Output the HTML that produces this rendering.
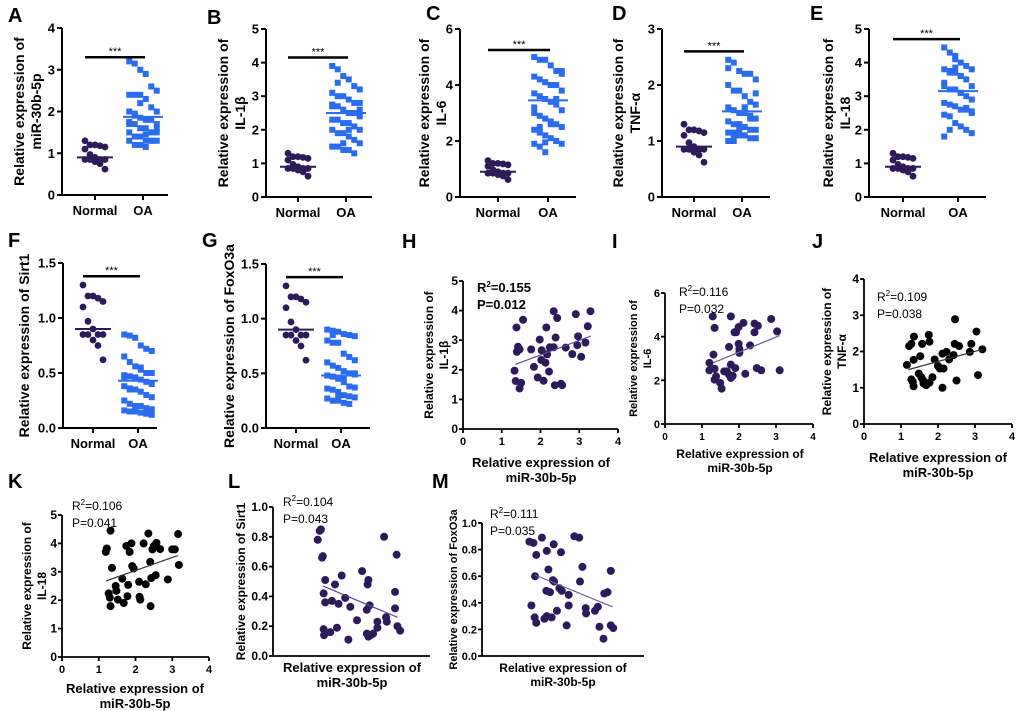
<!DOCTYPE html>
<html><head><meta charset="utf-8"><style>
html,body{margin:0;padding:0;background:#fff;}
svg{display:block;font-family:"Liberation Sans",Arial,sans-serif;}
</style></head><body>
<svg id="fig" width="1020" height="711" viewBox="0 0 1020 711" xmlns="http://www.w3.org/2000/svg"></svg>
<script>
// ---------- data ----------
const groupLabels = ["Normal","OA"];
const normalA = [1.3,1.2,1.2,1.18,1.15,1.1,0.97,0.9,0.85,0.85,0.85,0.85,0.8,0.75,0.62];
const oaA = [3.2,3.15,3.0,2.9,2.6,2.5,2.4,2.4,2.4,2.3,2.1,2.0,2.0,1.9,1.85,1.8,1.8,1.7,1.7,1.7,1.6,1.6,1.5,1.5,1.5,1.4,1.4,1.3,1.3,1.3,1.3,1.2,1.2,1.15,1.3,1.6,1.75,1.95,2.2,1.45];
const oaB = [3.9,3.8,3.6,3.5,3.3,3.2,3.1,3.0,3.0,2.9,2.8,2.8,2.7,2.7,2.6,2.5,2.5,2.4,2.3,2.3,2.2,2.2,2.1,2.0,2.0,1.9,1.9,1.8,1.7,1.6,1.5,1.5,1.4,1.4,1.3,2.6,2.75,3.4,1.6,2.0];
const oaC = [5.0,4.9,4.9,4.7,4.5,4.4,4.3,4.2,4.1,4.0,4.0,3.8,3.7,3.6,3.5,3.4,3.3,3.1,3.0,2.9,2.8,2.7,2.6,2.5,2.4,2.3,2.2,2.1,2.0,1.9,1.9,1.8,1.6,2.6,3.5,4.5,3.2,2.5,1.95,4.0];
const oaD = [2.45,2.4,2.25,2.2,2.2,2.1,2.0,1.9,1.9,1.8,1.7,1.65,1.6,1.55,1.5,1.5,1.45,1.4,1.35,1.3,1.3,1.25,1.2,1.2,1.15,1.15,1.1,1.1,1.05,1.05,1.0,1.0,1.3,1.6,1.4,1.85,2.3,1.1,1.2,1.6];
const oaE = [4.45,4.3,4.2,4.0,3.9,3.8,3.8,3.7,3.7,3.6,3.5,3.3,3.3,3.2,3.2,3.1,3.0,2.9,2.8,2.75,2.7,2.6,2.6,2.5,2.45,2.4,2.2,2.1,2.0,1.9,1.8,3.75,3.85,3.1,2.65,2.55,3.4,2.0,4.1,3.6];
const oaF = [0.85,0.84,0.82,0.75,0.72,0.7,0.65,0.6,0.56,0.53,0.5,0.5,0.48,0.47,0.46,0.44,0.42,0.4,0.38,0.36,0.35,0.33,0.3,0.28,0.25,0.22,0.2,0.2,0.18,0.17,0.16,0.15,0.15,0.14,0.13,0.12,0.45,0.35,0.19,0.55];
const oaG = [0.9,0.89,0.88,0.86,0.85,0.84,0.8,0.78,0.78,0.68,0.65,0.62,0.6,0.57,0.55,0.52,0.5,0.49,0.48,0.47,0.45,0.42,0.38,0.37,0.36,0.35,0.33,0.3,0.29,0.28,0.27,0.25,0.25,0.23,0.22,0.5,0.48,0.85,0.3,0.45];
const meansNormal = [0.9,0.9,0.9,0.9,0.9,0.9,0.9];
const meansOA = [1.87,2.5,3.45,1.53,3.15,0.43,0.48];

const hX=[1.38,1.55,1.33,1.36,1.5,1.46,1.42,1.39,1.46,1.76,1.83,1.98,1.93,2.02,2.08,2.13,2.15,2.22,2.17,2.24,2.34,2.43,2.39,2.34,2.37,2.56,2.65,2.82,2.91,2.97,2.95,3.05,3.16,3.22,3.29,2.03,2.53];
const hY=[3.43,3.69,1.97,1.62,1.56,1.37,2.78,2.61,2.69,2.69,2.1,3.02,1.74,2.33,1.63,2.24,3.43,1.94,2.52,2.76,3.98,3.75,3.09,2.76,1.48,1.48,2.75,2.53,3.88,3.13,2.83,2.44,2.92,3.47,3.98,2.66,1.53];
const iX=[1.29,1.34,1.31,1.2,1.2,1.34,1.34,1.38,1.49,1.53,1.6,1.67,1.73,1.78,1.83,1.78,1.73,1.78,1.88,1.92,1.9,1.99,2.01,2.01,1.99,2.12,2.17,2.3,2.42,2.51,2.42,2.48,2.6,2.87,3.03,3.1];
const iY=[4.93,4.4,3.18,2.8,2.46,2.53,2.03,2.18,1.88,1.62,2.41,2.41,2.26,2.11,2.21,2.72,3.53,4.93,4.2,4.2,2.56,3.67,3.44,3.26,4.44,4.63,2.3,3.6,4.6,4.5,4.2,2.56,2.46,4.81,4.24,2.46];
const jX=[1.16,1.22,1.28,1.35,1.34,1.28,1.32,1.34,1.48,1.52,1.57,1.55,1.6,1.61,1.68,1.75,1.77,1.77,1.85,1.91,2.0,2.05,2.12,2.15,2.12,2.23,2.3,2.42,2.45,2.46,2.5,2.57,2.86,2.9,3.04,3.08,3.2];
const jY=[1.63,2.15,2.21,2.41,1.77,1.23,1.16,1.04,1.39,1.87,2.21,1.29,1.2,1.12,1.07,2.46,2.27,1.14,1.29,1.78,1.6,1.53,1.94,1.53,1.0,1.99,1.78,1.9,2.21,2.89,1.2,2.15,1.99,2.21,2.55,1.35,2.06];
const kX=[1.19,1.22,1.32,1.36,1.27,1.3,1.32,1.46,1.48,1.52,1.64,1.68,1.75,1.8,1.78,1.84,1.89,1.91,1.95,2.1,2.11,2.13,2.22,2.28,2.35,2.4,2.41,2.43,2.46,2.5,2.55,2.57,2.67,2.88,3.0,3.07,3.16,3.18];
const kY=[3.7,3.82,4.45,3.14,2.24,2.09,1.79,2.5,2.33,2.02,2.76,1.9,3.91,2.54,2.14,3.7,4.0,3.2,3.12,2.65,2.12,2.02,4.0,2.56,4.35,3.35,1.79,2.78,3.79,3.91,2.88,4.02,3.8,2.73,3.79,3.79,4.33,3.24];
const lX=[1.14,1.19,1.22,1.25,1.27,1.33,1.29,1.33,1.29,1.3,1.46,1.5,1.58,1.63,1.67,1.75,1.84,1.92,1.97,2.14,2.27,2.39,2.41,2.43,2.46,2.39,2.43,2.49,2.55,2.66,2.66,2.83,2.88,2.9,3.11,3.11,3.15,3.17,3.24];
const lY=[0.78,0.84,0.85,0.66,0.67,0.51,0.42,0.36,0.18,0.14,0.16,0.37,0.48,0.19,0.35,0.54,0.39,0.11,0.33,0.24,0.57,0.31,0.48,0.51,0.34,0.15,0.13,0.14,0.15,0.23,0.19,0.8,0.26,0.23,0.43,0.32,0.68,0.2,0.17];
const mX=[1.17,1.27,1.34,1.31,1.22,1.3,1.34,1.48,1.6,1.64,1.77,1.75,1.78,1.59,1.68,1.54,1.6,1.72,1.85,1.95,1.91,1.97,2.14,2.14,2.09,2.28,2.4,2.48,2.42,2.56,2.57,2.79,2.86,2.9,3.0,3.02,3.1,3.18,3.18,3.24];
const mY=[0.86,0.85,0.76,0.6,0.38,0.29,0.25,0.89,0.79,0.65,0.84,0.57,0.56,0.49,0.48,0.28,0.3,0.29,0.34,0.78,0.51,0.49,0.46,0.38,0.23,0.9,0.89,0.67,0.56,0.36,0.32,0.34,0.37,0.22,0.13,0.47,0.48,0.64,0.23,0.21];
const fitStart=[[1.35,2.18],[1.3,2.8],[1.2,1.5],[1.2,2.68],[1.27,0.47],[1.3,0.61]];
const fitEnd=[[3.3,3.14],[3.1,4.05],[3.2,2.06],[3.15,3.57],[3.17,0.26],[3.22,0.37]];
const stats=[["0.155","0.012"],["0.116","0.032"],["0.109","0.038"],["0.106","0.041"],["0.104","0.043"],["0.111","0.035"]];

// ---------- drawing ----------
const NS="http://www.w3.org/2000/svg";
const svg=document.getElementById('fig');
function el(tag,attrs,parent,txt){const e=document.createElementNS(NS,tag);for(const k in attrs)e.setAttribute(k,attrs[k]);if(txt!==undefined)e.textContent=txt;(parent||svg).appendChild(e);return e;}
function grp(name){const g=el('g',{});return g;}
function letter(t,x,y){const e=el('text',{x:x,y:y,'font-size':20,'font-weight':'bold'},svg,t);}
function yTitle(g,lines,cx,cy,fs,gap){lines.forEach((l,i)=>{const x=cx+i*gap;const t=el('text',{x:x,y:cy,'font-size':fs,'font-weight':'bold','text-anchor':'middle',transform:'rotate(-90 '+x+' '+cy+')'},g,l);});}
function xTitle(g,lines,cx,y,fs){lines.forEach((l,i)=>{const t=el('text',{x:cx,y:y+i*(fs+2),'font-size':fs,'font-weight':'bold','text-anchor':'middle'},g,l);});}

const dotPanels=[
 {L:'A',ax:62,end:168,top:28,bot:195,max:4,ticks:['0','1','2','3','4'],nx:95,ox:143,sig:3.3,oa:oaA,yl:['Relative expression of','miR-30b-5p'],ycx:24,lx:8,ly:22},
 {L:'B',ax:266,end:372,top:29,bot:197,max:5,ticks:['0','1','2','3','4','5'],nx:298,ox:346,sig:4.15,oa:oaB,yl:['Relative expression of','IL-1β'],ycx:228,lx:207,ly:24},
 {L:'C',ax:460,end:576,top:29,bot:197,max:6,ticks:['0','2','4','6'],nx:498,ox:548,sig:5.25,oa:oaC,yl:['Relative expression of','IL-6'],ycx:429,lx:426,ly:20},
 {L:'D',ax:662,end:770,top:29,bot:197,max:3,ticks:['0','1','2','3'],nx:694,ox:742,sig:2.6,oa:oaD,yl:['Relative expression of','TNF-α'],ycx:623,lx:612,ly:20},
 {L:'E',ax:869,end:986,top:29,bot:197,max:5,ticks:['0','1','2','3','4','5'],nx:903,ox:958,sig:4.7,oa:oaE,yl:['Relative expression of','IL-18'],ycx:833,lx:810,ly:20},
 {L:'F',ax:63,end:157,top:263,bot:428,max:1.5,ticks:['0.0','0.5','1.0','1.5'],nx:93,ox:138,sig:1.38,oa:oaF,yl:['Relative expression of Sirt1'],ycx:29,lx:8,ly:247},
 {L:'G',ax:266,end:370,top:264,bot:428,max:1.5,ticks:['0.0','0.5','1.0','1.5'],nx:296,ox:341,sig:1.38,oa:oaG,yl:['Relative expression of FoxO3a'],ycx:234,lx:202,ly:247}
];
dotPanels.forEach((p,pi)=>{
 const g=grp('panel-'+p.L.toLowerCase());
 letter(p.L,p.lx,p.ly);
 const sy=v=>p.bot-(v/p.max)*(p.bot-p.top);
 el('line',{x1:p.ax,y1:p.top,x2:p.ax,y2:p.bot,stroke:'#000','stroke-width':2},g);
 el('line',{x1:p.ax,y1:p.bot,x2:p.end,y2:p.bot,stroke:'#000','stroke-width':2},g);
 const n=p.ticks.length-1;
 p.ticks.forEach((t,i)=>{const y=sy(p.max*i/n);el('line',{x1:p.ax-5,y1:y,x2:p.ax,y2:y,stroke:'#000','stroke-width':2},g);
  const tt=el('text',{x:p.ax-7,y:y+4.5,'font-size':13,'font-weight':'bold','text-anchor':'end'},g,t);});
 [p.nx,p.ox].forEach((x,i)=>{el('line',{x1:x,y1:p.bot,x2:x,y2:p.bot+5,stroke:'#000','stroke-width':2},g);
  const tt=el('text',{x:x,y:p.bot+20,'font-size':13,'font-weight':'bold','text-anchor':'middle'},g,groupLabels[i]);});
 yTitle(g,p.yl,p.ycx,(p.top+p.bot)/2,14,17);
 normalA.forEach((v,i)=>{const off=((i%5)-2)*5;const c=el('circle',{cx:p.nx+off,cy:sy(v),r:3.4,fill:'#2c1a5a'},g);});
 p.oa.forEach((v,i)=>{const off=((i%6)-2.5)*5.5;const r=el('rect',{x:p.ox+off-3,y:sy(v)-3,width:6,height:6,fill:'#2a6cf0'},g);});
 el('line',{x1:p.nx-18,y1:sy(meansNormal[pi]),x2:p.nx+18,y2:sy(meansNormal[pi]),stroke:'#2c1a5a','stroke-width':2},g);
 el('line',{x1:p.ox-20,y1:sy(meansOA[pi]),x2:p.ox+20,y2:sy(meansOA[pi]),stroke:'#2a6cf0','stroke-width':2},g);
 const ys=sy(p.sig);
 const sb=el('line',{x1:p.nx-10,y1:ys,x2:p.ox+2,y2:ys,stroke:'#000','stroke-width':2.5},g);
 el('text',{x:(p.nx+p.ox)/2-4,y:ys-2,'font-size':11,'text-anchor':'middle'},g,'***');
});

const scPanels=[
 {L:'H',ax:463,xe:618,top:281,bot:429,ymax:5,yt:['0','1','2','3','4','5'],xs:hX,ys:hY,col:'#2c1a5a',lc:'#5a4b8e',bold:true,rx:477,ry:292,yl:['Relative expression of','IL-1β'],ycx:433,xtcx:541,xty:467,lx:402,ly:248,fs:12,xt:true},
 {L:'I',ax:665,xe:813,top:293,bot:424,ymax:6,yt:['0','2','4','6'],xs:iX,ys:iY,col:'#2c1a5a',lc:'#6a5c9e',bold:false,rx:679,ry:296,yl:['Relative expression of','IL-6'],ycx:637,xtcx:740,xty:458,lx:612,ly:248,fs:11,xt:true},
 {L:'J',ax:864,xe:1012,top:279,bot:424,ymax:4,yt:['0','1','2','3','4'],xs:jX,ys:jY,col:'#000',lc:'#333',bold:false,rx:877,ry:301,yl:['Relative expression of','TNF-α'],ycx:831,xtcx:938,xty:462,lx:812,ly:248,fs:12,xt:true},
 {L:'K',ax:62,xe:209,top:515,bot:657,ymax:5,yt:['0','1','2','3','4','5'],xs:kX,ys:kY,col:'#000',lc:'#333',bold:false,rx:72,ry:510,yl:['Relative expression of','IL-18'],ycx:31,xtcx:135,xty:693,lx:8,ly:488,fs:12,xt:true},
 {L:'L',ax:273,xe:430,top:507,bot:656,ymax:1,yt:['0.0','0.2','0.4','0.6','0.8','1.0'],xs:lX,ys:lY,col:'#2c1a5a',lc:'#5a4b8e',bold:false,rx:283,ry:506,yl:['Relative expression of Sirt1'],ycx:245,xtcx:352,xty:672,lx:228,ly:488,fs:12,xt:false},
 {L:'M',ax:482,xe:644,top:523,bot:656,ymax:1,yt:['0.0','0.2','0.4','0.6','0.8','1.0'],xs:mX,ys:mY,col:'#2c1a5a',lc:'#6a5c9e',bold:false,rx:490,ry:518,yl:['Relative expression of FoxO3a'],ycx:457,xtcx:563,xty:672,lx:432,ly:488,fs:11,xt:false}
];
scPanels.forEach((p,pi)=>{
 const g=grp('panel-'+p.L.toLowerCase());
 letter(p.L,p.lx,p.ly);
 const sx=v=>p.ax+(v/4)*(p.xe-p.ax);
 const sy=v=>p.bot-(v/p.ymax)*(p.bot-p.top);
 el('line',{x1:p.ax,y1:p.top,x2:p.ax,y2:p.bot,stroke:'#000','stroke-width':1.8},g);
 el('line',{x1:p.ax,y1:p.bot,x2:p.xe,y2:p.bot,stroke:'#000','stroke-width':1.8},g);
 const n=p.yt.length-1;
 p.yt.forEach((t,i)=>{const y=sy(p.ymax*i/n);el('line',{x1:p.ax-4,y1:y,x2:p.ax,y2:y,stroke:'#000','stroke-width':1.8},g);
  const tt=el('text',{x:p.ax-5,y:y+4,'font-size':p.fs,'font-weight':'bold','text-anchor':'end'},g,t);});
 if(p.xt){[0,1,2,3,4].forEach(v=>{const x=sx(v);el('line',{x1:x,y1:p.bot,x2:x,y2:p.bot+4,stroke:'#000','stroke-width':1.8},g);
  const tt=el('text',{x:x,y:p.bot+16,'font-size':p.fs-1,'font-weight':'bold','text-anchor':'middle'},g,String(v));});}
 yTitle(g,p.yl,p.ycx,(p.top+p.bot)/2,p.fs,p.fs+3);
 xTitle(g,['Relative expression of','miR-30b-5p'],p.xtcx,p.xty,p.fs+1);
 p.xs.forEach((v,i)=>{const c=el('circle',{cx:sx(v),cy:sy(p.ys[i]),r:4,fill:p.col},g);});
 const f1=fitStart[pi],f2=fitEnd[pi];
 const fl=el('line',{x1:sx(f1[0]),y1:sy(f1[1]),x2:sx(f2[0]),y2:sy(f2[1]),stroke:p.lc,'stroke-width':1.2},g);
 const fw=p.bold?'bold':'normal';const fs=p.bold?13:12;
 const r=el('text',{x:p.rx,y:p.ry,'font-size':fs,'font-weight':fw},g);
 el('tspan',{},r,'R');el('tspan',{dy:-5,'font-size':8},r,'2');el('tspan',{dy:5},r,'='+stats[pi][0]);
 const pt=el('text',{x:p.rx,y:p.ry+17,'font-size':fs,'font-weight':fw},g,'P='+stats[pi][1]);
});
</script>
</body></html>
